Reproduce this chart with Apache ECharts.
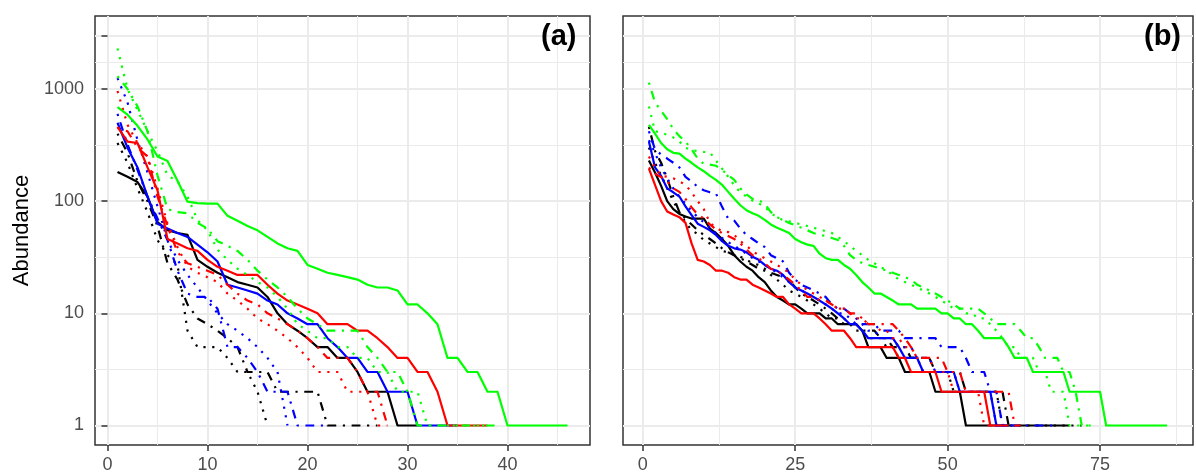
<!DOCTYPE html>
<html>
<head>
<meta charset="utf-8">
<script src="https://cdn.jsdelivr.net/npm/echarts@6/dist/echarts.min.js"></script>
<style>
html,body{margin:0;padding:0;background:#fff;}
#chart{width:1196px;height:474px;}
</style>
</head>
<body>
<div id="chart"></div>
<script>
// ---------- tick labels / breaks ----------
const aXTicks = [0, 10, 20, 30, 40];
const aXMinor = [5, 15, 25, 35, 45];
const bXTicks = [0, 25, 50, 75];
const bXMinor = [12.5, 37.5, 62.5, 87.5];
const yLabels = [1, 10, 100, 1000];
const yTicks = [1, 10, 100, 1000, 3000];
const yMinor = [3.1623, 31.623, 316.23, 1732];

// ---------- panel (a): abundance by rank ----------
const aGreenSolid = [690, 590, 470, 355, 250, 228, 152, 99, 96, 95, 95, 74, 67, 60, 55, 48, 42, 38, 36, 27, 25, 23, 22, 21, 20, 18, 17, 17, 16, 12, 12, 10, 8, 4, 4, 3, 3, 2, 2, 1, 1, 1, 1, 1, 1, 1];
const aGreenDotted = [2300, 1000, 650, 420, 280, 170, 150, 110, 68, 55, 37, 30, 25, 22, 19, 17, 14, 11, 8, 7, 6, 6, 5, 5, 4, 4, 3, 3, 2, 2, 2, 1, 1, 1, 1, 1, 1, 1];
const aGreenDotdash = [1300, 1000, 700, 420, 170, 85, 80, 78, 64, 57, 44, 40, 36, 30, 24, 20, 17, 14, 11, 9, 8, 7, 7, 7, 7, 5, 4, 3, 3, 2, 1, 1, 1, 1, 1, 1, 1, 1, 1];
const aRedSolid = [460, 340, 330, 200, 125, 46, 42, 38, 36, 30, 26, 24, 22, 22, 22, 18, 15, 13, 12, 11, 10, 8, 8, 8, 7, 7, 6, 5, 4, 4, 3, 3, 2, 1, 1, 1, 1, 1];
const aRedDotted = [960, 480, 330, 250, 130, 63, 39, 26, 23, 21, 19, 15, 13, 11, 9, 8, 7, 6, 5, 4, 3, 3, 3, 2, 2, 2, 1, 1];
const aRedDotdash = [450, 420, 300, 250, 110, 60, 35, 28, 26, 24, 22, 18, 15, 13, 12, 10, 9, 8, 7, 6, 5, 4, 4, 4, 3, 2, 2, 1];
const aBlueSolid = [500, 300, 200, 110, 63, 57, 52, 48, 41, 35, 29, 18, 17, 16, 15, 13, 12, 10, 9, 8, 8, 6, 5, 4, 4, 3, 3, 2, 2, 2, 1, 1, 1, 1, 1];
const aBlueDotted = [1250, 760, 350, 180, 90, 45, 30, 22, 17, 13, 10, 8, 7, 6, 5, 4, 3, 1];
const aBlueDotdash = [600, 320, 190, 110, 70, 45, 24, 15, 14, 14, 11, 5, 5, 4, 3, 2, 2, 2, 1, 1, 1, 1];
const aBlackSolid = [182, 165, 148, 110, 65, 55, 52, 50, 30, 26, 23, 21, 19, 18, 17, 14, 10, 8, 7, 6, 5, 5, 4, 4, 3, 2, 2, 2, 1, 1, 1];
const aBlackDotted = [330, 220, 130, 80, 45, 33, 27, 7, 5, 5, 5, 4, 3, 3, 2, 1];
const aBlackDotdash = [400, 270, 150, 100, 60, 28, 20, 12, 9, 8, 7, 6, 5, 3, 3, 3, 2, 2, 2, 2, 2, 1, 1, 1, 1, 1, 1];

// ---------- panel (b): abundance by rank ----------
const bGreenSolid = [480, 400, 330, 290, 270, 265, 240, 220, 200, 185,
  168, 155, 140, 121, 105, 92, 83, 78, 74, 68,
  62, 58, 55, 52, 46, 43, 41, 40, 34, 31,
  30, 30, 27, 25, 22, 19, 17, 15, 15, 14,
  13, 12, 12, 12, 11, 11, 11, 11, 10, 10,
  9, 9, 8, 8, 7, 6, 6, 6, 6, 5,
  4, 4, 4, 3, 3, 3, 3, 3, 3, 2,
  2, 2, 2, 2, 2, 1, 1, 1, 1, 1,
  1, 1, 1, 1, 1, 1];
const bGreenDotted = [700, 420, 410, 390, 370, 340, 300, 285, 280, 275,
  273, 230, 195, 165, 138, 120, 110, 101, 95, 90,
  78, 72, 68, 66, 64, 62, 60, 58, 56, 54,
  52, 48, 44, 40, 36, 33, 30, 28, 26, 24,
  22, 20, 19, 18, 17, 16, 15, 14, 13, 12,
  11, 11, 10, 10, 9, 9, 8, 7, 6, 5,
  5, 4, 4, 4, 3, 3, 2, 2, 2, 1,
  1, 1, 1, 1];
const bGreenDotdash = [1140, 760, 640, 540, 440, 380, 340, 290, 240, 215,
  212, 207, 190, 170, 155, 130, 115, 105, 102, 95,
  80, 72, 68, 64, 61, 58, 55, 52, 50, 49,
  47, 45, 40, 33, 30, 28, 27, 26, 25, 24,
  23, 22, 21, 20, 18, 17, 16, 15, 14, 13,
  12, 11, 11, 11, 11, 10, 9, 8, 8, 8,
  8, 7, 6, 6, 5, 4, 4, 4, 3, 3,
  2, 1, 1, 1];
const bRedSolid = [195, 140, 100, 81, 76, 72, 64, 42, 30, 29,
  27, 24, 24, 23, 21, 20, 20, 18, 17, 16,
  15, 14, 14, 12, 11, 10, 10, 10, 9, 8,
  7, 7, 7, 6, 5, 5, 5, 5, 5, 5,
  5, 4, 4, 3, 3, 3, 3, 3, 2, 2,
  2, 2, 2, 2, 2, 2, 1, 1, 1, 1];
const bRedDotted = [250, 200, 168, 165, 160, 150, 140, 120, 100, 85,
  64, 58, 54, 53, 50, 44, 40, 36, 33, 31,
  29, 27, 25, 23, 20, 18, 16, 15, 14, 13,
  12, 11, 11, 10, 9, 9, 8, 8, 7, 7,
  6, 6, 5, 5, 4, 4, 4, 3, 3, 3,
  2, 2, 2, 2, 2, 1, 1, 1];
const bRedDotdash = [200, 176, 164, 150, 130, 121, 105, 88, 76, 70,
  62, 56, 52, 49, 46, 42, 37, 33, 31, 28,
  25, 24, 22, 20, 18, 16, 14, 14, 13, 13,
  12, 11, 11, 10, 10, 9, 8, 8, 8, 8,
  8, 7, 6, 5, 4, 4, 4, 4, 4, 3,
  3, 3, 2, 2, 2, 2, 2, 2, 2, 2,
  1, 1];
const bBlueSolid = [340, 200, 168, 130, 120, 110, 90, 75, 63, 59,
  55, 50, 44, 40, 38, 37, 35, 32, 30, 27,
  25, 24, 22, 19, 17, 16, 15, 14, 13, 12,
  11, 10, 9, 8, 8, 7, 6, 6, 6, 6,
  6, 5, 4, 4, 4, 3, 3, 3, 3, 3,
  3, 2, 2, 2, 2, 2, 2, 1, 1, 1];
const bBlueDotted = [350, 270, 200, 160, 130, 110, 95, 82, 72, 65,
  58, 52, 47, 43, 40, 37, 34, 31, 29, 27,
  25, 23, 21, 19, 17, 16, 15, 14, 13, 12,
  11, 10, 10, 9, 8, 8, 7, 7, 6, 6,
  6, 5, 5, 5, 4, 4, 4, 3, 3, 3,
  3, 2, 2, 2, 2, 2, 2, 1, 1, 1];
const bBlueDotdash = [420, 290, 260, 240, 220, 200, 165, 150, 134, 125,
  120, 117, 89, 70, 67, 57, 50, 46, 42, 39,
  33, 31, 29, 23, 20, 18, 17, 16, 15, 14,
  12, 11, 11, 10, 9, 8, 8, 8, 7, 7,
  7, 7, 6, 6, 6, 6, 6, 6, 5, 5,
  5, 5, 4, 3, 3, 3, 2, 2, 1, 1,
  1, 1, 1, 1, 1, 1, 1, 1];
const bBlackSolid = [230, 180, 137, 100, 85, 77, 73, 70, 70, 70,
  57, 52, 46, 40, 33, 29, 26, 24, 21, 19,
  16, 14, 13, 12, 12, 11, 10, 10, 10, 9,
  9, 8, 8, 8, 8, 7, 5, 5, 5, 4,
  4, 4, 3, 3, 3, 3, 3, 2, 2, 2,
  2, 2, 1, 1, 1, 1, 1, 1, 1, 1,
  1, 1, 1, 1, 1, 1, 1, 1, 1, 1];
const bBlackDotted = [300, 220, 170, 130, 100, 80, 65, 55, 51, 45,
  42, 39, 36, 35, 33, 32, 30, 28, 27, 25,
  22, 20, 18, 16, 15, 14, 13, 12, 11, 10,
  9, 9, 8, 8, 7, 7, 6, 6, 6, 5,
  5, 4, 4, 4, 4, 3, 3, 3, 3, 3,
  2, 2, 2, 2, 2, 2, 2, 2, 1, 1,
  1, 1, 1, 1, 1, 1, 1, 1, 1, 1,
  1, 1];
const bBlackDotdash = [460, 280, 220, 160, 110, 80, 70, 62, 55, 50,
  46, 42, 38, 35, 33, 31, 29, 27, 25, 24,
  23, 22, 21, 20, 17, 15, 14, 13, 12, 11,
  10, 9, 9, 8, 8, 7, 7, 7, 6, 6,
  5, 5, 5, 4, 4, 4, 4, 3, 3, 3,
  3, 3, 2, 2, 2, 2, 2, 2, 2, 1,
  1];

// ---------- styling ----------
const GREEN = '#00FF00', RED = '#FF0000', BLUE = '#0000FF', BLACK = '#000000';
const LW = 2.2;
const SOLID = 'solid';
const DOTTED = [LW * 1, LW * 3];
const DOTDASH = [LW * 1, LW * 3, LW * 4, LW * 3];
const FONT = 'Liberation Sans, Arial, sans-serif';
const GRID_MAJOR = { color: '#EBEBEB', width: 2 };
const GRID_MINOR = { color: '#EBEBEB', width: 1 };

function line(vals, color, dash, xi, yi) {
  return {
    type: 'line',
    xAxisIndex: xi, yAxisIndex: yi,
    data: vals.map((v, i) => [i + 1, v]),
    symbol: 'none', showSymbol: false,
    silent: true, animation: false,
    lineStyle: { color: color, width: LW, type: dash, cap: 'butt', join: 'round' }
  };
}

function mainX(grid, min, max, ticks) {
  return {
    type: 'value', gridIndex: grid, min: min, max: max,
    axisLine: { show: false, onZero: false },
    axisTick: { show: true, customValues: ticks, length: 6, lineStyle: { color: '#333333', width: 1.5 } },
    axisLabel: { show: true, customValues: ticks, margin: 11, color: '#4D4D4D', fontSize: 18, fontFamily: FONT },
    splitLine: { show: true, lineStyle: GRID_MAJOR }
  };
}
function minorX(grid, min, max, ticks) {
  return {
    type: 'value', gridIndex: grid, min: min, max: max, position: 'bottom',
    axisLine: { show: false, onZero: false },
    axisTick: { show: false, customValues: ticks },
    axisLabel: { show: false, customValues: ticks },
    splitLine: { show: true, lineStyle: GRID_MINOR }
  };
}
const Y_MIN = 0.67, Y_MAX = 4477;
function mainY(grid, showAxis) {
  return {
    type: 'log', logBase: 10, gridIndex: grid, min: Y_MIN, max: Y_MAX,
    name: showAxis ? 'Abundance' : '',
    nameLocation: 'middle', nameGap: 62,
    nameTextStyle: { color: '#000', fontSize: 22, fontFamily: FONT },
    axisLine: { show: false },
    axisTick: { show: showAxis, customValues: yTicks, length: 6, lineStyle: { color: '#333333', width: 1.5 } },
    axisLabel: { show: showAxis, customValues: yLabels, margin: 11, color: '#4D4D4D', fontSize: 18, fontFamily: FONT,
      formatter: v => String(v) },
    splitLine: { show: true, lineStyle: GRID_MAJOR }
  };
}
function minorY(grid) {
  return {
    type: 'log', logBase: 10, gridIndex: grid, min: Y_MIN, max: Y_MAX, position: 'left',
    axisLine: { show: false },
    axisTick: { show: false, customValues: yMinor },
    axisLabel: { show: false, customValues: yMinor },
    splitLine: { show: true, lineStyle: GRID_MINOR }
  };
}

const panelA = [
  [aBlackSolid, BLACK, SOLID], [aBlackDotted, BLACK, DOTTED], [aBlackDotdash, BLACK, DOTDASH],
  [aBlueSolid, BLUE, SOLID], [aBlueDotted, BLUE, DOTTED], [aBlueDotdash, BLUE, DOTDASH],
  [aRedSolid, RED, SOLID], [aRedDotted, RED, DOTTED], [aRedDotdash, RED, DOTDASH],
  [aGreenSolid, GREEN, SOLID], [aGreenDotted, GREEN, DOTTED], [aGreenDotdash, GREEN, DOTDASH]
];
const panelB = [
  [bBlackSolid, BLACK, SOLID], [bBlackDotted, BLACK, DOTTED], [bBlackDotdash, BLACK, DOTDASH],
  [bBlueSolid, BLUE, SOLID], [bBlueDotted, BLUE, DOTTED], [bBlueDotdash, BLUE, DOTDASH],
  [bRedSolid, RED, SOLID], [bRedDotted, RED, DOTTED], [bRedDotdash, RED, DOTDASH],
  [bGreenSolid, GREEN, SOLID], [bGreenDotted, GREEN, DOTTED], [bGreenDotdash, GREEN, DOTDASH]
];

const series = [];
panelA.forEach(p => series.push(line(p[0], p[1], p[2], 0, 0)));
panelB.forEach(p => series.push(line(p[0], p[1], p[2], 2, 2)));

const chart = echarts.init(document.getElementById('chart'), null, { renderer: 'canvas' });
chart.setOption({
  animation: false,
  backgroundColor: '#ffffff',
  title: [
    { text: '(a)', left: 541, top: 22, padding: 0, textStyle: { fontSize: 29, fontWeight: 'bold', color: '#000', fontFamily: FONT } },
    { text: '(b)', left: 1144, top: 22, padding: 0, textStyle: { fontSize: 29, fontWeight: 'bold', color: '#000', fontFamily: FONT } }
  ],
  grid: [
    { left: 95, top: 16, width: 495, height: 432, show: true, borderColor: '#333333', borderWidth: 1.5, backgroundColor: 'transparent' },
    { left: 623, top: 16, width: 570, height: 432, show: true, borderColor: '#333333', borderWidth: 1.5, backgroundColor: 'transparent' }
  ],
  xAxis: [
    mainX(0, -1.25, 48.25, aXTicks),
    minorX(0, -1.25, 48.25, aXMinor),
    mainX(1, -3.25, 90.25, bXTicks),
    minorX(1, -3.25, 90.25, bXMinor)
  ],
  yAxis: [
    mainY(0, true),
    minorY(0),
    mainY(1, false),
    minorY(1)
  ],
  series: series
});
</script>
</body>
</html>
